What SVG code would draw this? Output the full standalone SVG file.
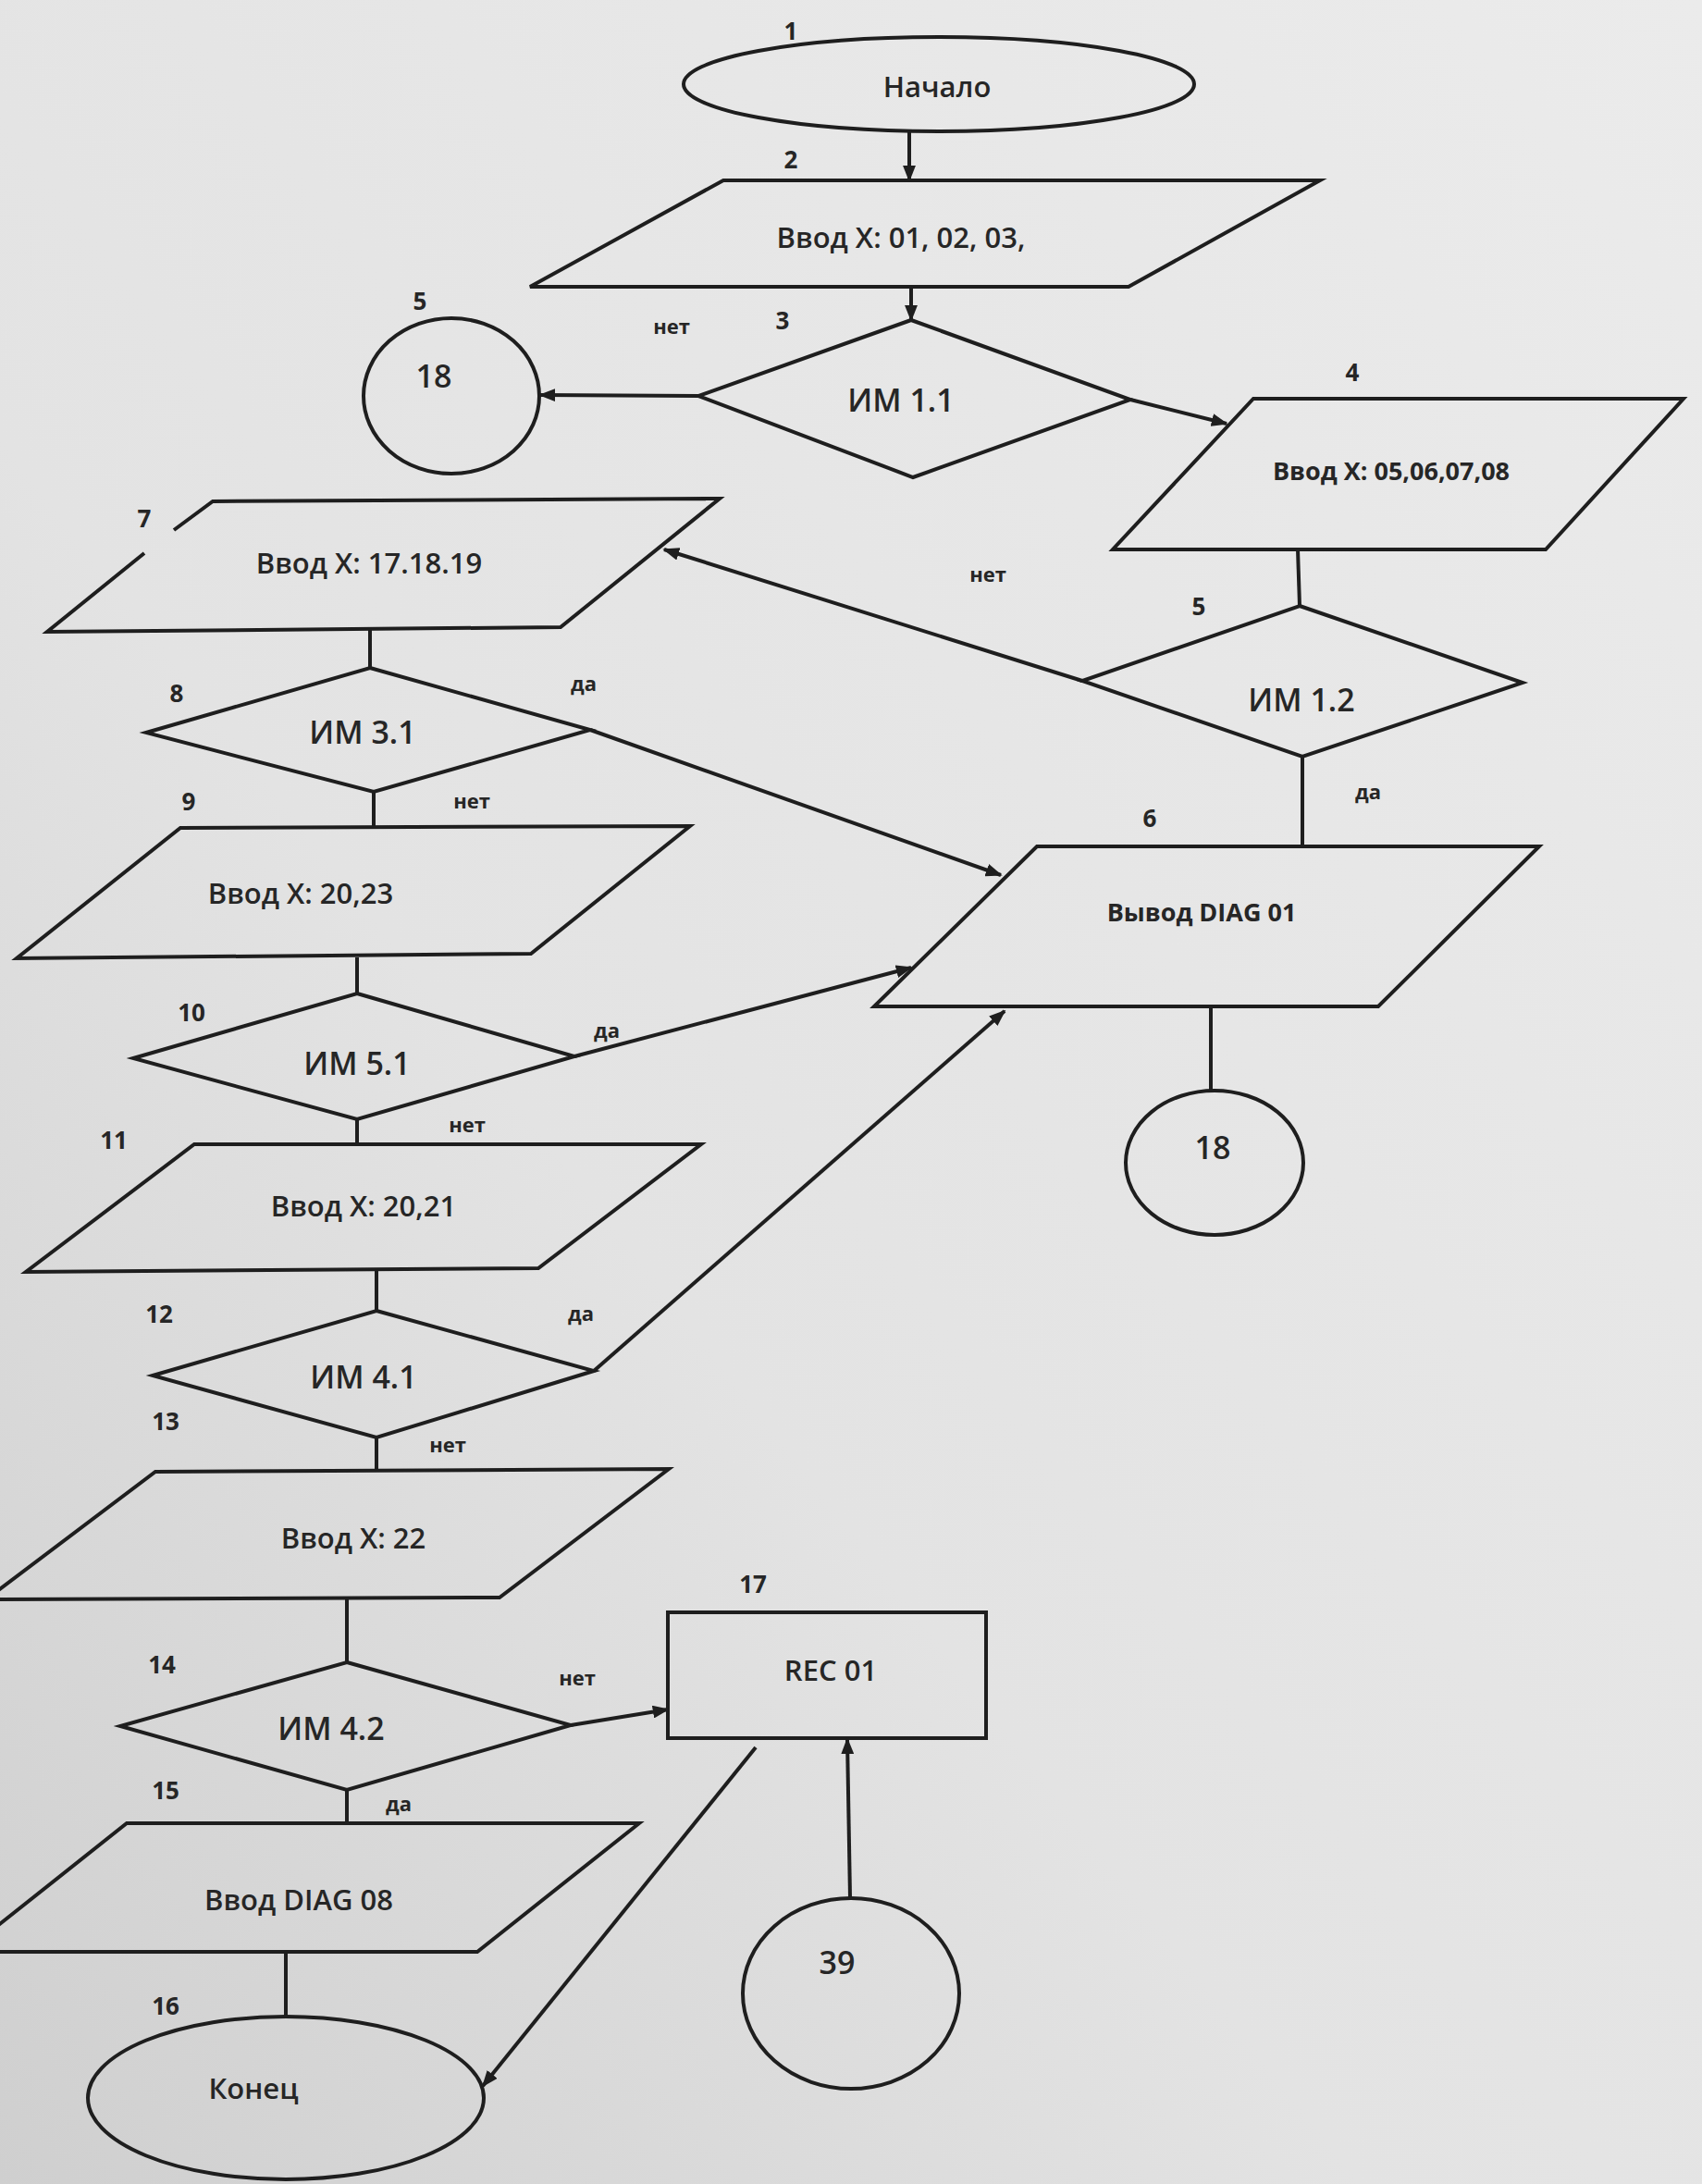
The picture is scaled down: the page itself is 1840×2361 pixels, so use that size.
<svg xmlns="http://www.w3.org/2000/svg" width="1840" height="2361" viewBox="0 0 1840 2361">
<defs>
<linearGradient id="bg" x1="1" y1="0" x2="0" y2="1">
<stop offset="0" stop-color="#ebebeb"/>
<stop offset="0.6" stop-color="#e3e3e3"/>
<stop offset="1" stop-color="#cfcfcf"/>
</linearGradient>
<marker id="arr" viewBox="0 0 10 10" refX="9" refY="5" markerWidth="18" markerHeight="14" markerUnits="userSpaceOnUse" orient="auto" preserveAspectRatio="none">
<path d="M0,0 L10,5 L0,10 Z" fill="#1e1e1e"/>
</marker>
</defs>
<style>
.s{fill:none;stroke:#1e1e1e;stroke-width:4;stroke-linejoin:miter}
.c{fill:none;stroke:#1e1e1e;stroke-width:4}
.a{marker-end:url(#arr)}
.t{font-family:"Open Sans","Noto Sans","Liberation Sans",sans-serif;font-weight:600;font-size:31px;fill:#262626;text-anchor:middle}
.im{font-size:34px}
.b{font-weight:bold;font-size:27px}
.n{font-family:"Open Sans","Noto Sans","Liberation Sans",sans-serif;font-weight:bold;font-size:26px;fill:#262626;text-anchor:middle}
.y{font-family:"Open Sans","Noto Sans","Liberation Sans",sans-serif;font-weight:bold;font-size:22px;fill:#262626;text-anchor:middle}
</style>
<rect x="0" y="0" width="1840" height="2361" fill="url(#bg)"/>

<g id="connectors">
<line class="c a" x1="983" y1="142" x2="983" y2="195"/>
<line class="c a" x1="985" y1="310" x2="985" y2="346"/>
<line class="c a" x1="755" y1="428" x2="584" y2="427"/>
<line class="c a" x1="1222" y1="432" x2="1326" y2="458"/>
<line class="c" x1="1403" y1="594" x2="1405" y2="655"/>
<line class="c a" x1="1170" y1="736" x2="718" y2="594"/>
<line class="c" x1="1408" y1="818" x2="1408" y2="915"/>
<line class="c" x1="1309" y1="1089" x2="1309" y2="1180"/>
<line class="c" x1="400" y1="680" x2="400" y2="722"/>
<line class="c a" x1="638" y1="789" x2="1082" y2="946"/>
<line class="c" x1="404" y1="856" x2="404" y2="895"/>
<line class="c" x1="386" y1="1035" x2="386" y2="1074"/>
<line class="c a" x1="621" y1="1142" x2="985" y2="1046"/>
<line class="c" x1="386" y1="1210" x2="386" y2="1237"/>
<line class="c" x1="407" y1="1373" x2="407" y2="1417"/>
<line class="c a" x1="642" y1="1482" x2="1086" y2="1093"/>
<line class="c" x1="407" y1="1554" x2="407" y2="1590"/>
<line class="c" x1="375" y1="1729" x2="375" y2="1797"/>
<line class="c a" x1="617" y1="1865" x2="722" y2="1848"/>
<line class="c" x1="375" y1="1935" x2="375" y2="1971"/>
<line class="c" x1="309" y1="2111" x2="309" y2="2180"/>
<line class="c a" x1="817" y1="1889" x2="522" y2="2255"/>
<line class="c a" x1="919" y1="2051" x2="916" y2="1880"/>
</g>

<g id="n1">
<ellipse class="s" cx="1015" cy="91" rx="276" ry="51"/>
<text class="t" x="1013" y="105">Начало</text>
<text class="n" x="855" y="43">1</text>
</g>
<g id="n2">
<polygon class="s" points="782,195 1427,195 1220,310 573,310"/>
<text class="t" x="974" y="268">Ввод X: 01, 02, 03,</text>
<text class="n" x="855" y="182">2</text>
</g>
<g id="n3">
<polygon class="s" points="985,346 1222,432 987,516 755,428"/>
<text class="t im" x="974" y="445">ИМ 1.1</text>
<text class="n" x="846" y="356">3</text>
<text class="y" x="726" y="361">нет</text>
</g>
<g id="n5a">
<ellipse class="s" cx="488" cy="428" rx="95" ry="84"/>
<text class="t im" x="469" y="419">18</text>
<text class="n" x="454" y="335">5</text>
</g>
<g id="n4">
<polygon class="s" points="1355,431 1820,431 1671,594 1203,594"/>
<text class="t b" x="1504" y="519">Ввод X: 05,06,07,08</text>
<text class="n" x="1462" y="412">4</text>
</g>
<g id="n5">
<polygon class="s" points="1405,655 1646,738 1408,818 1170,736"/>
<text class="t im" x="1407" y="769">ИМ 1.2</text>
<text class="n" x="1296" y="665">5</text>
<text class="y" x="1068" y="629">нет</text>
<text class="y" x="1479" y="864">да</text>
</g>
<g id="n6">
<polygon class="s" points="1121,915 1664,915 1490,1088 945,1088"/>
<text class="t b" x="1299" y="996">Вывод DIAG 01</text>
<text class="n" x="1243" y="894">6</text>
</g>
<g id="n18b">
<ellipse class="s" cx="1313" cy="1257" rx="96" ry="78"/>
<text class="t im" x="1311" y="1253">18</text>
</g>
<g id="n7">
<path class="s" d="M188,573 L230,542 L778,539 L606,678 L51,683 L156,598"/>
<text class="t" x="399" y="620">Ввод X: 17.18.19</text>
<text class="n" x="156" y="570">7</text>
</g>
<g id="n8">
<polygon class="s" points="400,722 638,789 404,856 158,792"/>
<text class="t im" x="392" y="804">ИМ 3.1</text>
<text class="n" x="191" y="759">8</text>
<text class="y" x="631" y="747">да</text>
<text class="y" x="510" y="874">нет</text>
</g>
<g id="n9">
<polygon class="s" points="195,895 746,893 574,1031 18,1036"/>
<text class="t" x="325" y="977">Ввод X: 20,23</text>
<text class="n" x="204" y="876">9</text>
</g>
<g id="n10">
<polygon class="s" points="386,1074 621,1142 386,1210 144,1144"/>
<text class="t im" x="386" y="1162">ИМ 5.1</text>
<text class="n" x="207" y="1104">10</text>
<text class="y" x="656" y="1122">да</text>
<text class="y" x="505" y="1224">нет</text>
</g>
<g id="n11">
<polygon class="s" points="210,1237 758,1237 582,1371 28,1375"/>
<text class="t" x="393" y="1315">Ввод X: 20,21</text>
<text class="n" x="123" y="1242">11</text>
</g>
<g id="n12">
<polygon class="s" points="407,1417 642,1482 407,1554 165,1487"/>
<text class="t im" x="393" y="1501">ИМ 4.1</text>
<text class="n" x="172" y="1430">12</text>
<text class="y" x="628" y="1428">да</text>
<text class="n" x="179" y="1546">13</text>
<text class="y" x="484" y="1570">нет</text>
</g>
<g id="n13">
<polygon class="s" points="168,1591 723,1588 540,1727 -15,1729"/>
<text class="t" x="382" y="1674">Ввод X: 22</text>
</g>
<g id="n14">
<polygon class="s" points="375,1797 617,1865 375,1935 130,1866"/>
<text class="t im" x="358" y="1881">ИМ 4.2</text>
<text class="n" x="175" y="1809">14</text>
<text class="y" x="624" y="1822">нет</text>
<text class="n" x="179" y="1945">15</text>
<text class="y" x="431" y="1958">да</text>
</g>
<g id="n17">
<rect class="s" x="722" y="1743" width="344" height="136"/>
<text class="t" x="898" y="1817">REC 01</text>
<text class="n" x="814" y="1722">17</text>
</g>
<g id="n15">
<polygon class="s" points="137,1971 691,1971 516,2110 -38,2110"/>
<text class="t" x="323" y="2065">Ввод DIAG 08</text>
</g>
<g id="n16">
<ellipse class="s" cx="309" cy="2268" rx="214" ry="88"/>
<text class="t" x="274" y="2269">Конец</text>
<text class="n" x="179" y="2178">16</text>
</g>
<g id="n39">
<ellipse class="s" cx="920" cy="2155" rx="117" ry="103"/>
<text class="t im" x="905" y="2134">39</text>
</g>
</svg>
